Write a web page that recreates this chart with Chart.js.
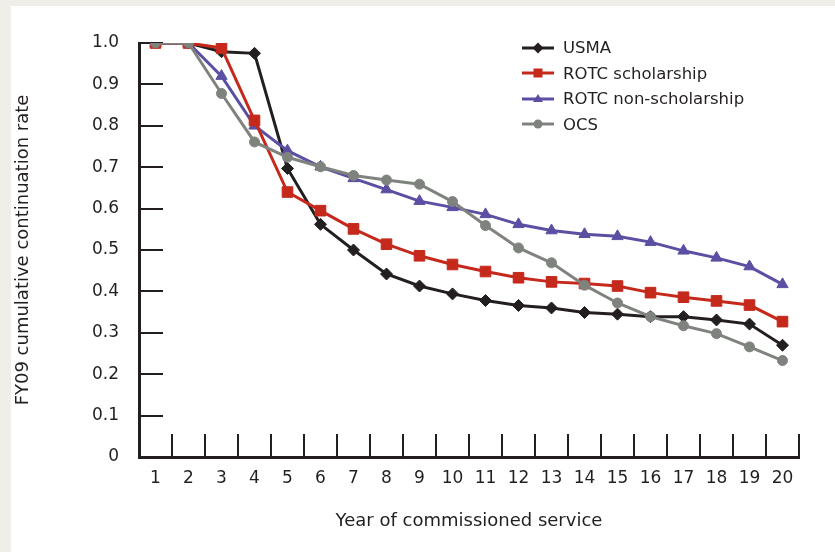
<!DOCTYPE html>
<html>
<head>
<meta charset="utf-8">
<script src="https://cdn.jsdelivr.net/npm/chart.js@4/dist/chart.umd.min.js"></script>
<style>
  body { margin: 0; background: #efeee8; width: 835px; height: 552px; overflow: hidden; position: relative; font-family: "DejaVu Sans", sans-serif; }
  #panel { position: absolute; left: 11px; top: 6px; right: 0; bottom: 0; background: #fff; }
  #c { position: absolute; left: 0; top: 0; }
  #legend { position: absolute; left: 522px; top: 35px; color: #231f20; font-size: 16.5px; }
  .item { height: 25.5px; display: flex; align-items: center; }
  .item svg { margin-right: 9px; }
</style>
</head>
<body>
<div id="panel"></div>
<canvas id="c" width="835" height="552"></canvas>
<div id="legend"></div>
<script>
const years = ['1','2','3','4','5','6','7','8','9','10','11','12','13','14','15','16','17','18','19','20'];
const usma = [1.0, 1.0, 0.979, 0.975, 0.697, 0.562, 0.500, 0.442, 0.413, 0.394, 0.378, 0.366, 0.360, 0.349, 0.345, 0.339, 0.339, 0.331, 0.321, 0.270];
const rotcScholarship = [1.0, 1.0, 0.988, 0.813, 0.640, 0.595, 0.551, 0.514, 0.486, 0.465, 0.448, 0.433, 0.423, 0.419, 0.413, 0.397, 0.386, 0.377, 0.367, 0.327];
const rotcNonScholarship = [1.0, 1.0, 0.920, 0.800, 0.740, 0.701, 0.673, 0.646, 0.618, 0.603, 0.586, 0.562, 0.547, 0.538, 0.533, 0.519, 0.498, 0.481, 0.460, 0.417];
const ocs = [1.0, 1.0, 0.878, 0.761, 0.724, 0.701, 0.680, 0.669, 0.659, 0.617, 0.559, 0.505, 0.469, 0.415, 0.372, 0.339, 0.317, 0.298, 0.266, 0.233];

const INK = '#231f20';
const FONT = '"DejaVu Sans", sans-serif';

const series = [
    { label: 'USMA', data: usma, color: '#231f20', style: 'rectRot', radius: 6, order: 3 },
    { label: 'ROTC scholarship', data: rotcScholarship, color: '#c5291c', style: 'rect', radius: 7.5, order: 1 },
    { label: 'ROTC non-scholarship', data: rotcNonScholarship, color: '#5a4fa3', style: 'triangle', radius: 6.5, order: 2 },
    { label: 'OCS', data: ocs, color: '#7f837e', style: 'circle', radius: 5, order: 0 }
];

// inward tick marks on both axes
const innerTicks = {
    id: 'innerTicks',
    beforeDatasetsDraw(chart) {
        const { ctx, chartArea, scales } = chart;
        ctx.save();
        ctx.strokeStyle = INK;
        ctx.lineWidth = 2;
        ctx.beginPath();
        scales.y.ticks.forEach(t => {
            if (t.value === 0) return;
            const y = Math.round(scales.y.getPixelForValue(t.value));
            ctx.moveTo(chartArea.left, y);
            ctx.lineTo(chartArea.left + 24, y);
        });
        for (let i = 0; i < years.length; i++) {
            const x = i < years.length - 1
                ? Math.round((scales.x.getPixelForValue(i) + scales.x.getPixelForValue(i + 1)) / 2)
                : chartArea.right;
            ctx.moveTo(x, chartArea.bottom);
            ctx.lineTo(x, chartArea.bottom - 23);
        }
        ctx.stroke();
        ctx.restore();
    }
};

const chart = new Chart(document.getElementById('c'), {
    type: 'line',
    data: {
        labels: years,
        datasets: series.map(s => ({
            label: s.label,
            data: s.data,
            order: s.order,
            borderColor: s.color,
            backgroundColor: s.color,
            borderWidth: 3,
            pointStyle: s.style,
            pointRadius: s.radius,
            pointBorderWidth: 1,
            pointBorderColor: s.color,
            pointBackgroundColor: s.color,
            tension: 0,
            fill: false
        }))
    },
    options: {
        responsive: false,
        animation: false,
        devicePixelRatio: 1,
        layout: { padding: { left: 0, top: 43, right: 36, bottom: 0 } },
        plugins: { legend: { display: false }, tooltip: { enabled: false } },
        scales: {
            x: {
                type: 'category',
                offset: true,
                grid: { display: false, drawTicks: false },
                border: { display: true, width: 3, color: INK },
                ticks: { color: INK, font: { family: FONT, size: 17 }, padding: 11, maxRotation: 0, autoSkip: false },
                title: { display: true, text: 'Year of commissioned service', color: INK, font: { family: FONT, size: 18 }, padding: { top: 0, bottom: 20 } },
                afterFit(scale) { scale.height = 95; }
            },
            y: {
                min: 0,
                max: 1,
                grid: { display: false, drawTicks: false },
                border: { display: true, width: 3, color: INK },
                ticks: {
                    stepSize: 0.1,
                    color: INK,
                    font: { family: FONT, size: 17 },
                    padding: 20,
                    callback: v => v === 0 ? '0' : v.toFixed(1)
                },
                title: { display: true, text: 'FY09 cumulative continuation rate', color: INK, font: { family: FONT, size: 18 }, padding: { top: 13, bottom: 0 } },
                afterFit(scale) { scale.width = 139; }
            }
        }
    },
    plugins: [innerTicks]
});

// legend built from the same series list
function markerSvg(s) {
    const c = s.color;
    if (s.style === 'rectRot') return `<polygon points="16,1.5 21.5,7 16,12.5 10.5,7" fill="${c}"/>`;
    if (s.style === 'rect') return `<rect x="11.5" y="2.5" width="9" height="9" fill="${c}"/>`;
    if (s.style === 'triangle') return `<polygon points="16,2 21,10 11,10" fill="${c}"/>`;
    return `<circle cx="16" cy="7" r="4.5" fill="${c}"/>`;
}
document.getElementById('legend').innerHTML = series.map(s =>
    `<div class="item"><svg width="32" height="14"><line x1="0" y1="7" x2="32" y2="7" stroke="${s.color}" stroke-width="3"/>${markerSvg(s)}</svg><span>${s.label}</span></div>`
).join('');
</script>
</body>
</html>
